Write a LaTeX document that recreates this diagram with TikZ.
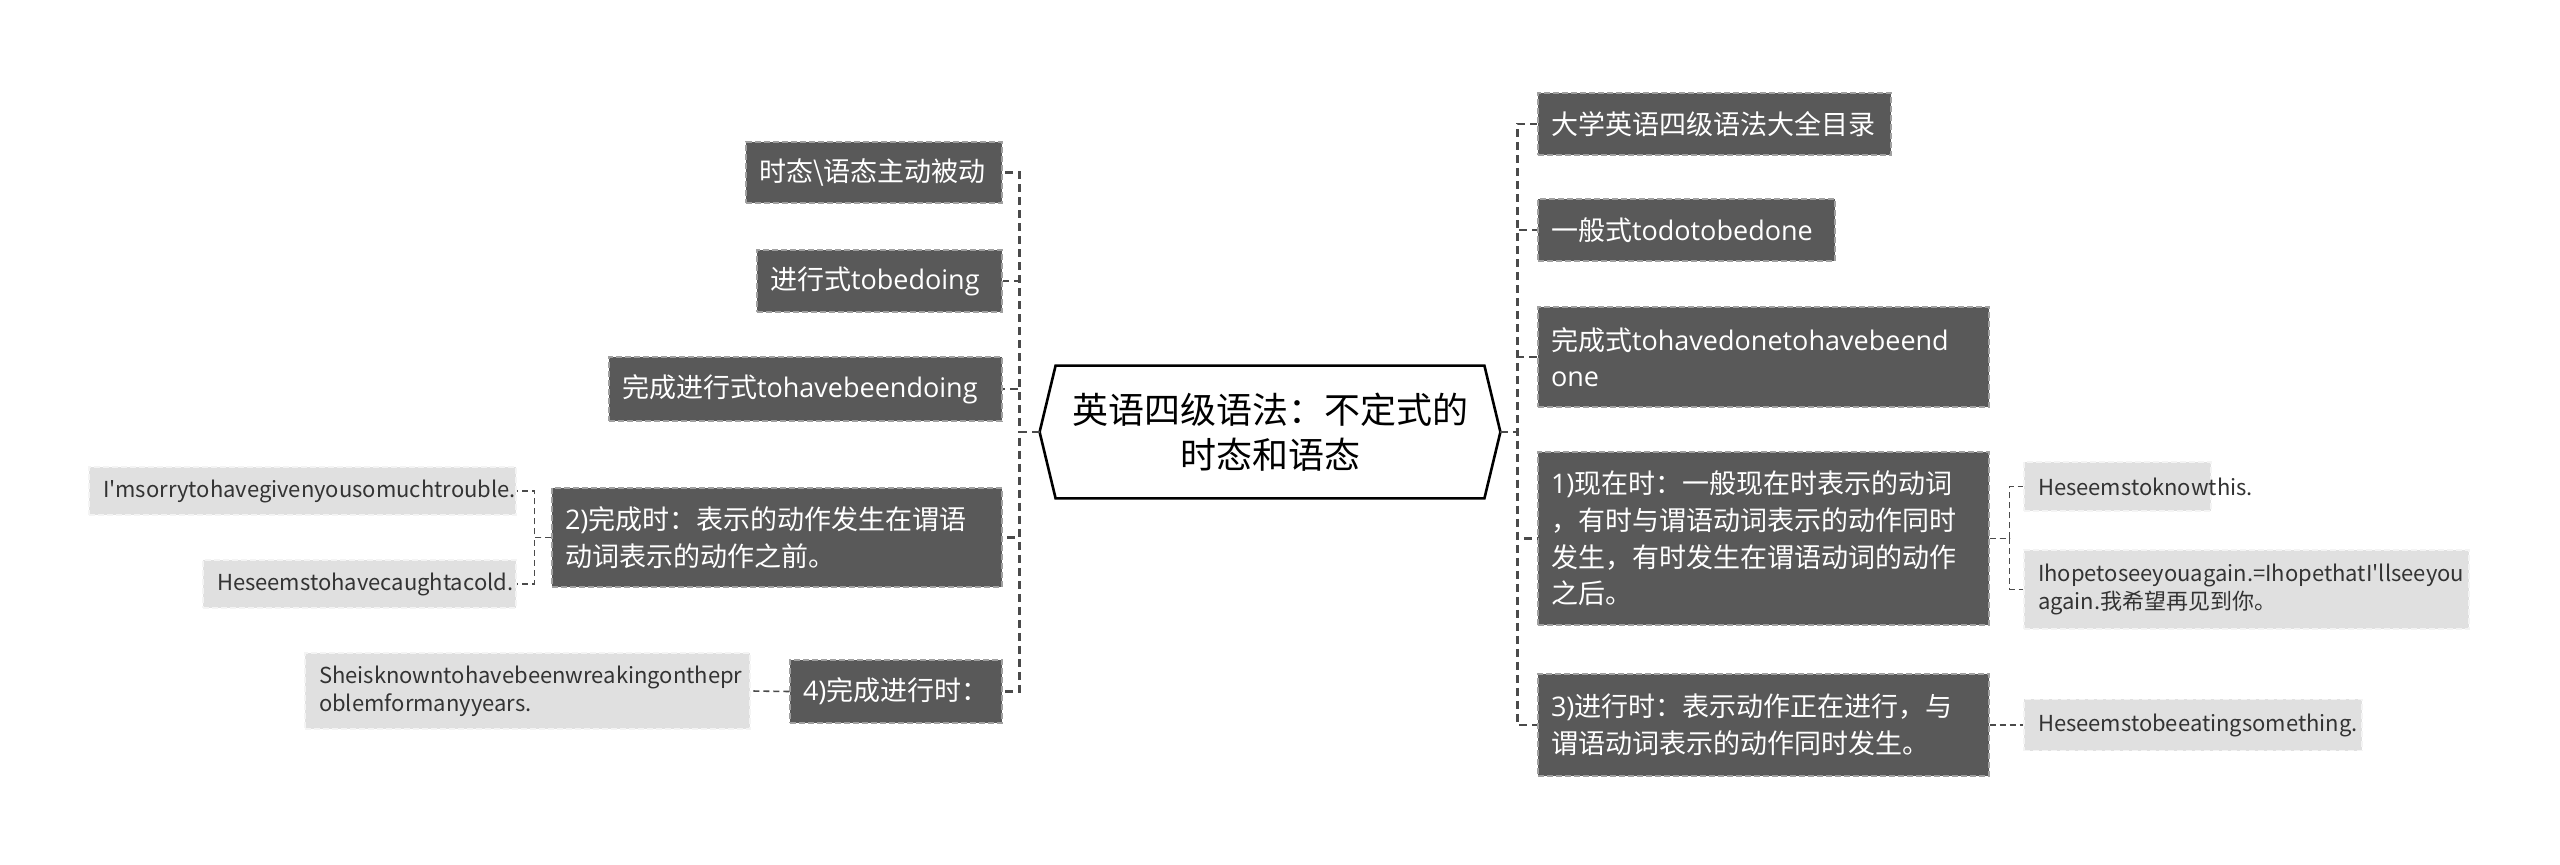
\documentclass[tikz,border=0pt]{standalone}
\usepackage{fontspec}
\setmainfont{Open Sans}
\newfontfamily\cjk{Noto Sans CJK SC}
\newcommand\en[1]{{\rmfamily #1}}
\definecolor{darkfill}{HTML}{595959}
\definecolor{darkedge}{HTML}{A0A0A0}
\definecolor{lightfill}{HTML}{E0E0E0}
\definecolor{lightedge}{HTML}{F4F4F4}
\definecolor{lighttext}{HTML}{333333}
\definecolor{connc}{HTML}{4A4A4A}
\tikzset{
  dbox/.style={fill=darkfill, draw=darkedge, dash pattern=on 3pt off 1.5pt, line width=0.6pt,
    text=white, font=\cjk\fontsize{13.5}{18.3}\selectfont, align=left, inner xsep=6.5pt, inner ysep=0pt},
  lbox/.style={fill=lightfill, draw=lightedge, dash pattern=on 3pt off 1.5pt, line width=0.6pt,
    text=lighttext, font=\cjk\fontsize{11}{14}\selectfont, align=left, inner xsep=7pt, inner ysep=0pt},
  rootnode/.style={font=\cjk\fontsize{18}{22.5}\selectfont, align=center, minimum width=214pt,
    minimum height=66pt, inner sep=0pt, text=black},
  rootedge/.style={draw=black, fill=white, line width=1.3pt, line join=miter},
  conn/.style={draw=connc, line width=1.4pt, dash pattern=on 4pt off 2.5pt},
  subconn/.style={draw=connc, line width=0.8pt, dash pattern=on 3pt off 2pt},
}
\begin{document}
\begin{tikzpicture}[x=0.5pt,y=-0.5pt]
\useasboundingbox (0,0) rectangle (2560,865);
\fill[white] (0,0) rectangle (2560,865);

% root
\path (1270,432) node[rootnode] (rootbase) {};
\draw[rootedge] (rootbase.north west) -- (rootbase.north east) -- ([xshift=8pt]rootbase.east)
  -- (rootbase.south east) -- (rootbase.south west) -- ([xshift=-8pt]rootbase.west) -- cycle;
\node[rootnode] (root) at (1270,432) {英语四级语法：不定式的\\时态和语态};
\coordinate (rl) at ([xshift=-8pt]root.west);
\coordinate (rr) at ([xshift=8pt]root.east);

% left children
\node[dbox, text width=115pt, minimum height=30.5pt] (A) at (874,172.5) {时态\textbackslash 语态主动被动};
\node[dbox, text width=109.5pt, minimum height=31pt] (B) at (879.5,281) {进行式\en{tobedoing}};
\node[dbox, text width=183.5pt, minimum height=32pt] (C) at (805.5,389) {完成进行式\en{tohavebeendoing}};
\node[dbox, text width=212pt, minimum height=49.5pt] (D) at (777,537.5) {\en{2)}完成时：表示的动作发生在谓语\\动词表示的动作之前。};
\node[dbox, text width=93pt, minimum height=31.5pt] (E) at (896,691.5) {\en{4)}完成进行时：};

\node[lbox, text width=199.5pt, minimum height=24pt] (F) at (302.5,491) {I'msorrytohavegivenyousomuchtrouble.};
\node[lbox, text width=142.5pt, minimum height=24pt] (G) at (359.5,584) {Heseemstohavecaughtacold.};
\node[lbox, text width=208.5pt, minimum height=38pt] (H) at (527.5,691) {Sheisknowntohavebeenwreakingonthepr\\oblemformanyyears.};

% right children
\node[dbox, text width=163.5pt, minimum height=31pt] (I) at (1714.5,124) {大学英语四级语法大全目录};
\node[dbox, text width=135.5pt, minimum height=31pt] (J) at (1686.5,230) {一般式\en{todotobedone}};
\node[dbox, text width=212.5pt, minimum height=50pt] (K) at (1763.5,357) {完成式\en{tohavedonetohavebeend}\\\en{one}};
\node[dbox, text width=212.5pt, minimum height=86.5pt] (L) at (1763.5,538.5) {\en{1)}现在时：一般现在时表示的动词\\，有时与谓语动词表示的动作同时\\发生，有时发生在谓语动词的动作\\之后。};
\node[dbox, text width=212.5pt, minimum height=51pt] (M) at (1763.5,725) {\en{3)}进行时：表示动作正在进行，与\\谓语动词表示的动作同时发生。};

\node[lbox, text width=79.5pt, minimum height=24.5pt] (N) at (2117.5,486.5) {Heseemstoknowthis.};
\node[lbox, text width=208.5pt, minimum height=39.5pt] (O) at (2246.5,589.5) {Ihopetoseeyouagain.=IhopethatI'llseeyou\\again.我希望再见到你。};
\node[lbox, text width=155pt, minimum height=25.5pt] (P) at (2193,725) {Heseemstobeeatingsomething.};

% connectors left
\foreach \n in {A,B,C,D,E} \draw[conn] (rl) -- ++(-20,0) |- (\n.east);
% connectors right
\foreach \n in {I,J,K,L,M} \draw[conn] (rr) -- ++(17,0) |- (\n.west);
% sub connectors
\foreach \n in {F,G} \draw[subconn] (D.west) -- ++(-17,0) |- (\n.east);
\draw[subconn] (E.west) -- (H.east);
\foreach \n in {N,O} \draw[subconn] (L.east) -- ++(20,0) |- (\n.west);
\draw[subconn] (M.east) -- (P.west);
\end{tikzpicture}
\end{document}
